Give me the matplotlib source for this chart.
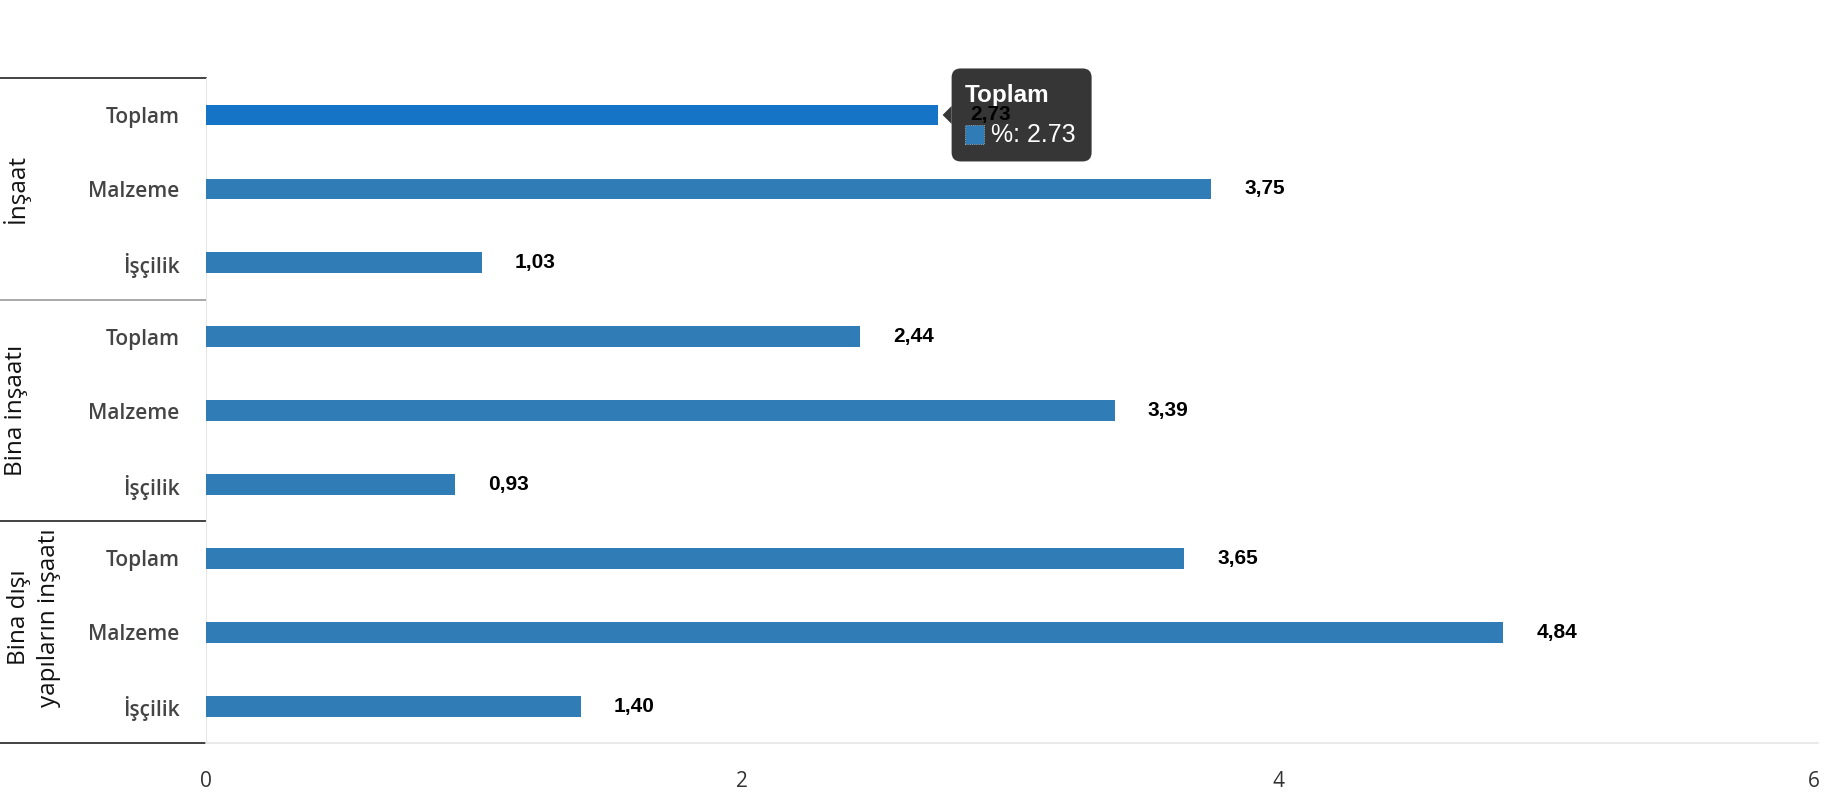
import matplotlib
matplotlib.use("Agg")
import matplotlib.pyplot as plt
from matplotlib.patches import FancyBboxPatch, Polygon, Rectangle
from matplotlib.transforms import IdentityTransform

# data
groups = ["İnşaat", "Bina inşaatı", "Bina dışı\nyapıların inşaatı"]
items = ["Toplam", "Malzeme", "İşçilik"]
values = [2.73, 3.75, 1.03,
          2.44, 3.39, 0.93,
          3.65, 4.84, 1.40]
hover_index = 0

bar_color = "#2f7cb6"
hover_color = "#1574c6"

fig = plt.figure(figsize=(18.3, 8), dpi=100)
ax = fig.add_axes([0.1125, 0.071, 0.881, 0.8315])

n = len(values)
ypos = list(range(n))
colors = [hover_color if i == hover_index else bar_color for i in range(n)]
ax.barh(ypos, values, height=0.28, color=colors, zorder=3)

ax.set_xlim(0, 6.015)
ax.set_ylim(n - 0.5, -0.5)

# value labels
for y, v in zip(ypos, values):
    ax.annotate(f"{v:.2f}".replace(".", ","), xy=(v, y), xytext=(33, 0),
                textcoords="offset pixels", va="center", ha="left",
                fontsize=15, fontweight="bold", family="Liberation Sans",
                color="black", zorder=9)

# axes styling
for s in ["top", "right"]:
    ax.spines[s].set_visible(False)
ax.spines["left"].set_color("#e6e6e6")
ax.spines["bottom"].set_color("#e6e6e6")
ax.spines["bottom"].set_linewidth(1.2)
ax.set_xticks([0, 2, 4, 6])
ax.set_xticklabels(["0", "2", "4", "6"])
ax.tick_params(axis="x", length=0, pad=20, labelsize=15, labelcolor="#333333")
ax.set_yticks(ypos)
ax.set_yticklabels(items * len(groups))
for lab in ax.get_yticklabels():
    lab.set_family("Open Sans")
    lab.set_fontweight("semibold")
ax.tick_params(axis="y", length=0, pad=19, labelsize=15, labelcolor="#444444")
for lab in ax.get_xticklabels():
    lab.set_family("Open Sans")

# group separators and labels (left of the axes)
trans = ax.get_yaxis_transform()
lab_x = [-0.118, -0.118, -0.1065]
sep_colors = ["#222222", "#999999", "#222222", "#222222"]
k = len(items)
for gi, g in enumerate(groups):
    top = gi * k - 0.5
    ax.plot([-0.1275, 0], [top, top], transform=trans, color=sep_colors[gi],
            lw=1.2, clip_on=False)
    ax.text(lab_x[gi], top + k / 2 - 0.2 * g.count("\n"), g, transform=trans,
            rotation=90, ha="center", va="center", fontsize=17.5,
            family="Open Sans", color="#111111", linespacing=1.3)
bottom = len(groups) * k - 0.5
ax.plot([-0.1275, 0], [bottom, bottom], transform=trans, color=sep_colors[-1],
        lw=1.2, clip_on=False)

# tooltip on hovered bar (drawn in pixel coords, inside the axes so the
# value label stays on top of it)
fig.canvas.draw()
px, py = ax.transData.transform((values[hover_index], ypos[hover_index]))
ident = IdentityTransform()
bx = px + 14
bw, bh = 140, 93
tip_fc = "#2b2b2b"
box = FancyBboxPatch((bx, py - bh / 2), bw, bh, boxstyle="round,pad=0,rounding_size=9",
                     transform=ident, facecolor=tip_fc, edgecolor="none",
                     alpha=0.95, zorder=5, clip_on=False)
ax.add_artist(box)
tri = Polygon([(bx, py + 9), (bx - 9, py), (bx, py - 9)], closed=True,
              transform=ident, facecolor=tip_fc, edgecolor="none", alpha=0.95,
              zorder=5, clip_on=False)
ax.add_artist(tri)
ax.text(bx + 13, py + bh / 2 - 27, items[0], transform=ident, ha="left", va="center",
        color="white", fontsize=17.5, fontweight="bold", family="Liberation Sans",
        zorder=7, clip_on=False)
sq = Rectangle((bx + 13, py - 29), 19, 19, transform=ident, facecolor=bar_color,
               edgecolor="#bbbbbb", lw=0.6, ls=":", zorder=7, clip_on=False)
ax.add_artist(sq)
ax.text(bx + 39, py - 20, f"%: {values[hover_index]}", transform=ident, ha="left",
        va="center", color="white", fontsize=18, family="Liberation Sans",
        zorder=7, clip_on=False)

fig.savefig("out.png", dpi=100)
